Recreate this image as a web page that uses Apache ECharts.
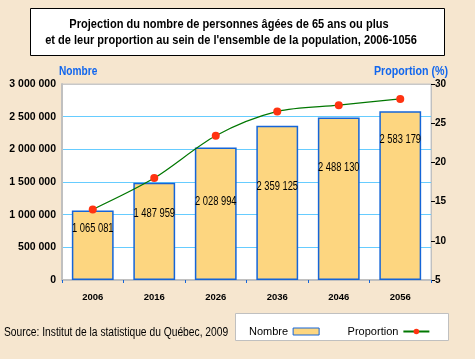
<!DOCTYPE html>
<html><head><meta charset="utf-8">
<script src="https://cdn.jsdelivr.net/npm/echarts@6/dist/echarts.min.js"></script>
<style>html,body{margin:0;padding:0;background:#F6E6CF;}#c{width:475px;height:359px;}</style>
</head><body><div id="c"></div>
<script>
const categories = ['2006','2016','2026','2036','2046','2056'];
const nombre = [1065081, 1487959, 2028994, 2359125, 2488130, 2583179];
const proportion = [14.0, 18.0, 23.4, 26.5, 27.3, 28.1];
const leftTicks = [0, 500000, 1000000, 1500000, 2000000, 2500000, 3000000];
const rightTicks = [5, 10, 15, 20, 25, 30];

const F = "'Liberation Sans',Arial,sans-serif";
const labelShift = [18, 31, 54, 61, 50, 28];
const fmt = v => String(v).replace(/\B(?=(\d{3})+(?!\d))/g, ' ');

const chart = echarts.init(document.getElementById('c'), null, {renderer:'canvas'});
chart.setOption({
  backgroundColor: '#F6E6CF',
  animation: false,
  graphic: [
    {type:'rect', x: 30.5, y: 8.5, z: 1, shape:{width:414, height:47}, style:{fill:'#fff', stroke:'#000', lineWidth:1}},
    {type:'text', x: 229, y: 18, z: 2, scaleX: 0.85, style:{text:'Projection du nombre de personnes âgées de 65 ans ou plus', textAlign:'center', fill:'#000', font:'bold 13px ' + F}},
    {type:'text', x: 231, y: 34, z: 2, scaleX: 0.85, style:{text:'et de leur proportion au sein de l\'ensemble de la population, 2006-1056', textAlign:'center', fill:'#000', font:'bold 13px ' + F}},
    {type:'text', x: 59, y: 65, scaleX: 0.78, style:{text:'Nombre', fill:'#1166EE', font:'bold 13px ' + F}},
    {type:'text', x: 448, y: 65, scaleX: 0.82, style:{text:'Proportion (%)', textAlign:'right', fill:'#1166EE', font:'bold 13px ' + F}},
    {type:'text', x: 4, y: 327, scaleX: 0.855, style:{text:'Source: Institut de la statistique du Québec, 2009', fill:'#000', font:'12px ' + F}},
    {type:'rect', x: 235.5, y: 313.5, z: -1, shape:{width:213, height:27}, style:{fill:'#fff', stroke:'#c0c0c0', lineWidth:1}}
  ],
  legend: {
    left: 244, top: 321, align: 'right', itemGap: 28, itemWidth: 26, itemHeight: 7,
    textStyle: {fontFamily: F, fontSize: 11, color: '#000'},
    data: [
      {name:'Nombre', icon:'rect', itemStyle:{color:'#FDD680', borderColor:'#1565D8', borderWidth:1}},
      {name:'Proportion'}
    ]
  },
  grid: {left: 62, right: 44, top: 84, bottom: 79, show: true, backgroundColor: '#fff', borderColor: '#c8c8c8', borderWidth: 1},
  xAxis: {
    type: 'category', data: categories,
    axisLine: {lineStyle: {color: '#c0c0c0', width: 2}},
    axisTick: {show: true, alignWithLabel: false, length: 3, lineStyle: {color: '#1565D8'}},
    axisLabel: {fontFamily: F, fontWeight: 'bold', fontSize: 9.5, color: '#000', margin: 12}
  },
  yAxis: [
    {type: 'value', min: 0, max: 3000000, interval: 500000, position: 'left',
     axisLine: {show: true, lineStyle: {color: '#c0c0c0', width: 2}},
     axisTick: {show: false},
     axisLabel: {fontFamily: F, fontWeight: 'bold', fontSize: 10.5, color: '#000', margin: 6, formatter: v => fmt(v)},
     splitLine: {show: true, lineStyle: {color: ['#c0c0c0','#66CCFF','#66CCFF','#66CCFF','#66CCFF','#66CCFF','#c8c8c8'], width: 1}}
    },
    {type: 'value', min: 5, max: 30, interval: 5, position: 'right',
     axisLine: {show: true, lineStyle: {color: '#c0c0c0', width: 1}},
     axisTick: {show: true, length: 4, lineStyle: {color: '#000'}},
     axisLabel: {fontFamily: F, fontWeight: 'bold', fontSize: 10, color: '#000', margin: 4},
     splitLine: {show: false}
    }
  ],
  series: [
    {name: 'Nombre', type: 'bar', barWidth: '68%', yAxisIndex: 0,
     itemStyle: {color: '#FDD680', borderColor: '#1565D8', borderWidth: 1.5},
     data: nombre
    },
    {name: 'labels', type: 'custom', yAxisIndex: 0, z: 5, silent: true,
     data: nombre.map((v, i) => [i, v]),
     renderItem: (params, api) => {
       const i = api.value(0), v = api.value(1);
       const pt = api.coord([i, v]);
       return {type: 'text', x: pt[0], y: pt[1] + labelShift[params.dataIndex], scaleX: 0.78,
         style: {text: fmt(v), textAlign: 'center', textVerticalAlign: 'middle', fill: '#000', font: '12px ' + F}};
     }
    },
    {name: 'Proportion', type: 'line', yAxisIndex: 1, smooth: 0.3, data: proportion, z: 6,
     symbol: 'circle', symbolSize: 8,
     lineStyle: {color: '#007700', width: 1.2},
     itemStyle: {color: '#FF3311'}
    }
  ]
});
</script></body></html>
